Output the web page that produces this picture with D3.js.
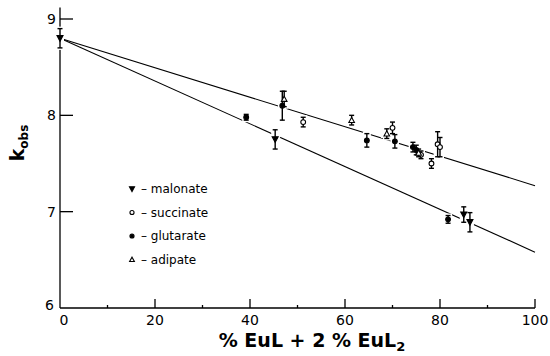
<!DOCTYPE html>
<html><head><meta charset="utf-8">
<script src="https://cdn.jsdelivr.net/npm/d3@7"></script>
<style>body{margin:0;background:#fff}svg{display:block}</style>
</head><body>
<script>
// ---- data ----
const malonate = [[0,8.80,0.10],[45.3,7.75,0.10],[85.0,6.97,0.08],[86.3,6.89,0.10]];
const glutarate = [[39.2,7.98,0.03],[46.8,8.10,0.15],[64.6,7.74,0.07],[70.5,7.73,0.07],[74.3,7.67,0.05],[75.0,7.64,0.05],[81.7,6.92,0.04]];
const succinate = [[51.2,7.93,0.05],[70.0,7.87,0.06],[76.0,7.59,0.04],[78.2,7.50,0.05],[79.5,7.70,0.13],[80.0,7.67,0.10]];
const adipate = [[47.2,8.17,0.08],[61.4,7.95,0.05],[68.8,7.81,0.05],[75.5,7.61,0.04]];
const fitUpper = [[0,8.80],[100,7.27]];
const fitLower = [[0,8.80],[100,6.58]];
const xMajor = [0,20,40,60,80,100];
const xMinor = [10,30,50,70,90];
const yTicks = [6,7,8,9];
const legendNames = ["malonate","succinate","glutarate","adipate"];

const W=550,H=356;
const svg=d3.select("body").append("svg").attr("width",W).attr("height",H);
const x=d3.scaleLinear().domain([0,100]).range([60,535]);
const y=d3.scaleLinear().domain([6,9]).range([308,19]);
const font="'DejaVu Sans', sans-serif";

// axes
const g=svg.append("g").attr("stroke","#000").attr("stroke-width",1.3).attr("fill","none");
g.append("line").attr("x1",x(0)).attr("x2",x(0)).attr("y1",y(6)).attr("y2",y(9.12));
g.append("line").attr("x1",x(0)).attr("x2",x(100)).attr("y1",y(6)).attr("y2",y(6));
xMajor.filter(d=>d>0).forEach(d=>g.append("line").attr("x1",x(d)).attr("x2",x(d)).attr("y1",y(6)).attr("y2",y(6)-9));
xMinor.forEach(d=>g.append("line").attr("x1",x(d)).attr("x2",x(d)).attr("y1",y(6)).attr("y2",y(6)-3));
yTicks.filter(d=>d>6).forEach(d=>g.append("line").attr("x1",x(0)).attr("x2",x(0)+13).attr("y1",y(d)).attr("y2",y(d)));

const tl=svg.append("g").attr("font-family",font).attr("font-size",14).attr("fill","#000");
xMajor.forEach(d=>tl.append("text").attr("x",x(d)+(d===0?4:0)).attr("y",y(6)+17).attr("text-anchor","middle").text(d));
yTicks.forEach(d=>tl.append("text").attr("x",x(0)-4+(d===6?-2:0)).attr("y",y(d)+5-(d===6?3:0)).attr("text-anchor","end").text(d));

// axis titles
const xt=svg.append("text").attr("x",312).attr("y",347).attr("text-anchor","middle")
  .attr("font-family",font).attr("font-size",19).attr("font-weight","bold");
xt.append("tspan").text("% EuL + 2 % EuL");
xt.append("tspan").attr("font-size",13).attr("dy",4).text("2");
const yt=svg.append("text").attr("transform","translate(24,143) rotate(-90)").attr("text-anchor","middle")
  .attr("font-family",font).attr("font-weight","bold").attr("font-size",19);
yt.append("tspan").text("k");
yt.append("tspan").attr("font-size",12).attr("dy",4).text("obs");

// fit lines
const line=d3.line().x(d=>x(d[0])).y(d=>y(d[1]));
[fitUpper,fitLower].forEach(f=>svg.append("path").attr("d",line(f)).attr("fill","none").attr("stroke","#000").attr("stroke-width",1.1));

// markers
function marker(sel,type,cx,cy,halo,s){
  s=s||1;
  const sw=halo?4:1.1, st=halo?"#fff":"#000";
  const fill = halo?"#fff":(type==="malonate"||type==="glutarate"?"#000":"#fff");
  if(type==="malonate"){
    sel.append("path").attr("d",`M${cx-3*s},${cy-2.6*s} L${cx+3*s},${cy-2.6*s} L${cx},${cy+3*s} Z`).attr("fill",fill).attr("stroke",st).attr("stroke-width",sw);
  } else if(type==="adipate"){
    sel.append("path").attr("d",`M${cx-2.8*s},${cy+2.4*s} L${cx+2.8*s},${cy+2.4*s} L${cx},${cy-2.8*s} Z`).attr("fill",fill).attr("stroke",st).attr("stroke-width",sw);
  } else {
    sel.append("circle").attr("cx",cx).attr("cy",cy).attr("r",2.4*s).attr("fill",fill).attr("stroke",st).attr("stroke-width",sw);
  }
}
const series=[["malonate",malonate],["succinate",succinate],["glutarate",glutarate],["adipate",adipate]];
const halo=svg.append("g"), pts=svg.append("g");
series.forEach(([name,data])=>{
  data.forEach(d=>{
    const cx=x(d[0]), y1=y(d[1]+d[2]), y2=y(d[1]-d[2]);
    halo.append("rect").attr("x",cx-4).attr("y",y1-2).attr("width",8).attr("height",y2-y1+4).attr("fill","#fff");
    marker(halo,name,cx,y(d[1]),true);
    pts.append("line").attr("x1",cx).attr("x2",cx).attr("y1",y1).attr("y2",y2).attr("stroke","#000").attr("stroke-width",1.4);
    [y1,y2].forEach(yy=>pts.append("line").attr("x1",cx-2.5).attr("x2",cx+2.5).attr("y1",yy).attr("y2",yy).attr("stroke","#000").attr("stroke-width",1.4));
    marker(pts,name,cx,y(d[1]),false);
  });
});

// legend
const lg=svg.append("g").attr("font-family",font).attr("font-size",12);
legendNames.forEach((n,i)=>{
  const yy=189+i*23.5;
  marker(lg,n,132,yy,false,0.85);
  lg.append("text").attr("x",141).attr("y",yy+4).text("\u2013 "+n);
});
</script>
</body></html>
